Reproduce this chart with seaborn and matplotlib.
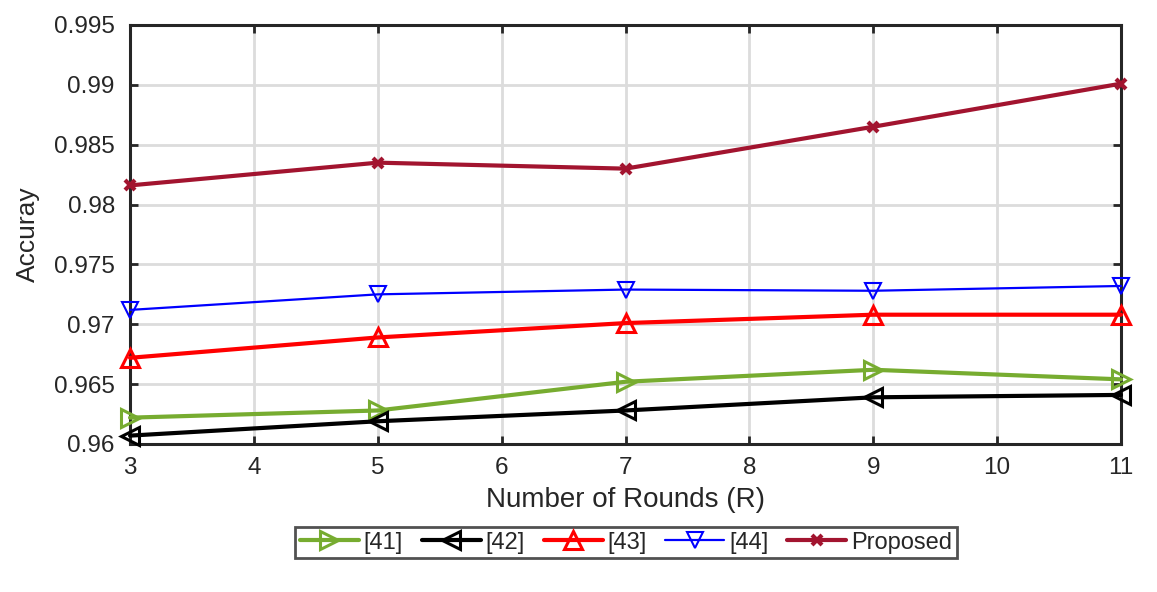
import matplotlib
matplotlib.use("Agg")
import matplotlib.pyplot as plt
import seaborn as sns
import numpy as np

rounds = [3, 5, 7, 9, 11]
ref41 = [0.9622, 0.9628, 0.9652, 0.9662, 0.9654]
ref42 = [0.9607, 0.9619, 0.9628, 0.9639, 0.9641]
ref43 = [0.9672, 0.9689, 0.9701, 0.9708, 0.9708]
ref44 = [0.9712, 0.9725, 0.9729, 0.9728, 0.9732]
proposed = [0.9816, 0.9835, 0.9830, 0.9865, 0.9901]
labels = ["[41]", "[42]", "[43]", "[44]", "Proposed"]
colors = ["#77ac30", "#000000", "#ff0000", "#0000ff", "#a2142f"]
yticks = [0.96, 0.965, 0.97, 0.975, 0.98, 0.985, 0.99, 0.995]
ytick_labels = ["0.96", "0.965", "0.97", "0.975", "0.98", "0.985", "0.99", "0.995"]

sns.set_theme(style="white")
plt.rcParams['font.family'] = ['Liberation Sans', 'DejaVu Sans']

fig = plt.figure(figsize=(11.57, 5.92), dpi=100)
ax = fig.add_axes([0.1124, 0.25, 0.8565, 0.7078])

styles = [
    dict(marker='>', lw=3, ms=13, mew=2.2),
    dict(marker='<', lw=3, ms=13, mew=2.2),
    dict(marker='^', lw=3, ms=13, mew=2.2),
    dict(marker='v', lw=1.6, ms=12, mew=1.5),
    dict(marker='x', lw=3, ms=7, mew=3),
]
series = [ref41, ref42, ref43, ref44, proposed]
for vals, lab, col, st in zip(series, labels, colors, styles):
    fc = col if st['marker'] == 'x' else 'none'
    sns.lineplot(x=rounds, y=vals, ax=ax, color=col, label=lab,
                 marker=st['marker'], linewidth=st['lw'], markersize=st['ms'],
                 markeredgewidth=st['mew'], markerfacecolor=fc,
                 markeredgecolor=col, clip_on=False, zorder=3)

ax.set_xlim(3, 11)
ax.set_ylim(0.96, 0.995)
ax.set_xticks(range(3, 12))
ax.set_yticks(yticks)
ax.set_yticklabels(ytick_labels)
ax.grid(True, color='#dcdcdc', linewidth=2)
ax.set_axisbelow(True)
for sp in ax.spines.values():
    sp.set_color('#262626')
    sp.set_linewidth(2.2)
    sp.set_visible(True)
ax.tick_params(direction='in', length=6, width=2, color='#262626',
               labelsize=17.5, top=True, right=True, left=True, bottom=True,
               labelcolor='#262626')
ax.tick_params(axis='y', pad=11)
ax.tick_params(axis='x', pad=9)
ax.set_xlabel("Number of Rounds (R)", fontsize=20, color='#262626', labelpad=6)
ax.set_ylabel("Accuray", fontsize=19, color='#262626', labelpad=10)

leg = ax.legend(loc='center', bbox_to_anchor=(0.541, 0.0836), bbox_transform=fig.transFigure,
                ncol=5, fontsize=17, frameon=True, fancybox=False, handlelength=2.5,
                handletextpad=0.2, columnspacing=0.8, borderpad=0.2, borderaxespad=0)
leg.get_frame().set_edgecolor('#262626')
leg.get_frame().set_linewidth(2)

fig.savefig("out.png", dpi=100, facecolor='white')
